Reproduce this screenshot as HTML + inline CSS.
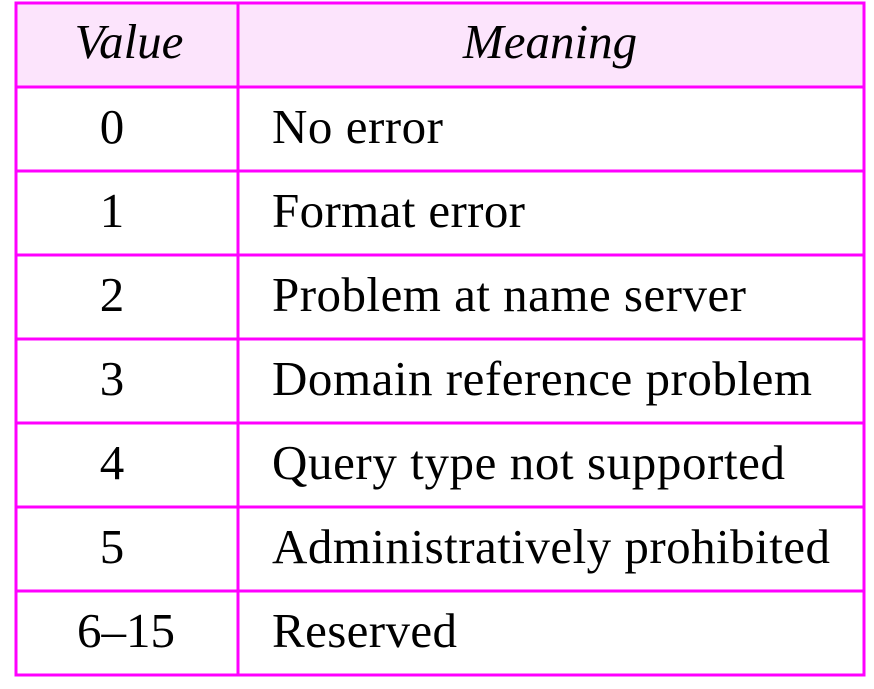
<!DOCTYPE html>
<html><head><style>body{margin:0;background:#fff}</style></head><body>
<svg width="874" height="689" xmlns="http://www.w3.org/2000/svg" style="display:block">
<rect x="16" y="3" width="848" height="84" fill="#fce4fc"/>
<g stroke="#f0f" stroke-width="3" fill="none">
<rect x="16" y="3" width="848" height="672"/>
<line x1="238" y1="3" x2="238" y2="675"/>
<line x1="16" y1="87" x2="864" y2="87"/>
<line x1="16" y1="171" x2="864" y2="171"/>
<line x1="16" y1="255" x2="864" y2="255"/>
<line x1="16" y1="339" x2="864" y2="339"/>
<line x1="16" y1="423" x2="864" y2="423"/>
<line x1="16" y1="507" x2="864" y2="507"/>
<line x1="16" y1="591" x2="864" y2="591"/>
</g>
<g font-family="Liberation Serif, serif" font-size="49" fill="#000">
<text x="129" y="58" text-anchor="middle" font-style="italic">Value</text>
<text x="550" y="58" text-anchor="middle" font-style="italic">Meaning</text>
<g text-anchor="middle">
<text x="112" y="143">0</text>
<text x="112" y="227">1</text>
<text x="112" y="311">2</text>
<text x="112" y="395">3</text>
<text x="112" y="479">4</text>
<text x="112" y="563">5</text>
<text x="126" y="647">6–15</text>
</g>
<text x="272" y="143" textLength="171">No error</text>
<text x="272" y="227" textLength="253">Format error</text>
<text x="272" y="311" textLength="474">Problem at name server</text>
<text x="272" y="395" textLength="540">Domain reference problem</text>
<text x="272" y="479" textLength="513">Query type not supported</text>
<text x="272" y="563" textLength="558">Administratively prohibited</text>
<text x="272" y="647" textLength="185">Reserved</text>
</g>
</svg>
</body></html>
